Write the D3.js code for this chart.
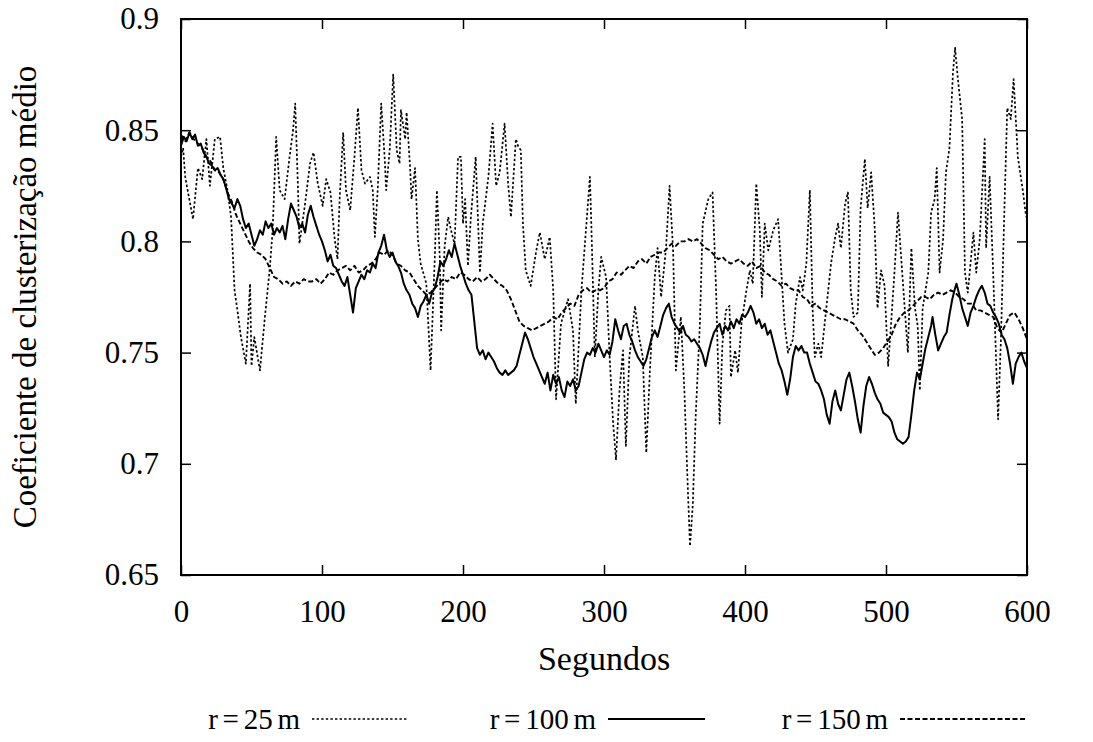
<!DOCTYPE html>
<html>
<head>
<meta charset="utf-8">
<script src="https://cdn.jsdelivr.net/npm/d3@7"></script>
<style>
  body { margin: 0; background: #fff; }
</style>
</head>
<body>
<svg width="1093" height="742"></svg>
<script>
// tick values and labels
var xTicks = [0, 100, 200, 300, 400, 500, 600];
var yTicks = [0.65, 0.7, 0.75, 0.8, 0.85, 0.9];
var xLabel = "Segundos";
var yLabel = "Coeficiente de clusterização médio";
var seriesNames = ["r = 25 m", "r = 100 m", "r = 150 m"];

// r = 25 m  [segundos, coeficiente]
var r25 = [[0,0.838],[1.5,0.842],[3,0.829],[5,0.822],[8.5,0.810],[12,0.833],[15,0.828],[18,0.846],[20.5,0.825],
  [24,0.846],[27.7,0.847],[30,0.833],[33,0.823],[35.5,0.811],[38,0.778],[40,0.769],[42.5,0.757],[46,0.745],
  [49,0.781],[50,0.744],[52,0.757],[56,0.742],[59.5,0.766],[63,0.788],[65,0.805],[67.5,0.847],[70,0.823],
  [73.5,0.819],[77,0.838],[79.5,0.850],[81,0.862],[83,0.823],[84,0.799],[88,0.817],[91.5,0.835],[94,0.840],
  [97,0.826],[100.5,0.816],[103,0.828],[106,0.822],[109,0.801],[111,0.792],[112.5,0.819],[115,0.849],[117,0.823],
  [120,0.814],[123,0.838],[125.5,0.860],[128,0.832],[130.5,0.826],[134,0.829],[136,0.823],[137.5,0.802],
  [139.5,0.823],[142,0.862],[144.5,0.837],[145.5,0.823],[148,0.841],[150.5,0.875],[153,0.841],[155,0.835],
  [156,0.859],[159,0.846],[160,0.858],[162.5,0.833],[163.5,0.819],[166,0.833],[168,0.801],[170,0.790],
  [174,0.781],[177,0.742],[180,0.793],[181.5,0.823],[183.5,0.793],[184.5,0.760],[187,0.798],[189.5,0.811],
  [191.5,0.805],[194,0.799],[196.5,0.838],[198.5,0.838],[200,0.808],[201.5,0.819],[203.5,0.789],[205.5,0.810],
  [209,0.838],[212,0.786],[214,0.808],[218,0.829],[221,0.853],[223.5,0.825],[226,0.831],[229.5,0.853],
  [232,0.826],[234,0.811],[237.5,0.846],[239,0.843],[241,0.841],[242.5,0.808],[244.5,0.787],[248,0.780],
  [252,0.796],[254.5,0.804],[258,0.792],[261.5,0.802],[264,0.778],[266,0.729],[269.5,0.763],[274.5,0.774],
  [278,0.760],[280,0.727],[284,0.778],[290,0.829],[291,0.808],[293.5,0.748],[296,0.778],[298,0.793],
  [301.5,0.784],[304,0.748],[306.5,0.718],[308.5,0.702],[311,0.733],[313.5,0.751],[315.5,0.708],[318,0.748],
  [322,0.771],[324,0.760],[327.5,0.748],[330,0.705],[332.5,0.741],[336,0.784],[338,0.797],[340.5,0.775],
  [344,0.797],[346.5,0.825],[349,0.796],[351,0.742],[354.5,0.766],[357,0.733],[359.5,0.688],[361,0.663],
  [363,0.682],[365,0.721],[368,0.763],[370,0.808],[374,0.819],[377,0.822],[379.5,0.778],[382,0.718],
  [384,0.754],[386.5,0.769],[389,0.771],[390,0.739],[393,0.751],[395,0.741],[397.5,0.763],[401,0.778],
  [403.5,0.787],[405.5,0.781],[408,0.826],[410.5,0.805],[412,0.775],[414,0.808],[416.5,0.796],[420,0.805],
  [423.5,0.810],[425.5,0.789],[428,0.763],[430.5,0.750],[434,0.756],[436,0.772],[439,0.784],[441,0.778],
  [443.5,0.790],[446,0.823],[448,0.769],[449.5,0.748],[452,0.754],[454,0.748],[456.5,0.763],[459,0.778],
  [461,0.790],[464,0.802],[466,0.808],[468,0.797],[471,0.817],[473,0.822],[475,0.778],[477,0.766],
  [480,0.768],[482,0.815],[485,0.837],[487,0.815],[489.5,0.831],[492,0.806],[494,0.770],[496.5,0.787],
  [499,0.780],[501.5,0.744],[503.5,0.762],[506,0.786],[508.5,0.813],[510.5,0.795],[513.5,0.768],[515.5,0.750],
  [518,0.797],[520.5,0.770],[522.5,0.762],[524,0.733],[526,0.770],[530,0.786],[532,0.813],[534.5,0.819],
  [536,0.833],[538,0.786],[540.5,0.801],[542.5,0.831],[545,0.842],[547.5,0.876],[549,0.887],[551,0.873],
  [554,0.855],[556,0.786],[558,0.777],[562,0.804],[564,0.786],[566.5,0.801],[570,0.846],[571,0.797],
  [573.5,0.829],[576,0.786],[579.5,0.720],[581.5,0.756],[584,0.815],[586,0.860],[588.5,0.855],[590.5,0.873],
  [593.5,0.838],[597,0.823],[599,0.813],[600,0.810]];

// r = 100 m
var r100 = [[0,0.843],[2,0.847],[4,0.845],[6,0.849],[8,0.846],[10,0.848],[12,0.843],[14,0.844],[16,0.840],
  [18,0.838],[20,0.835],[22,0.834],[24,0.832],[26,0.833],[28,0.830],[30,0.828],[32,0.824],[34,0.819],
  [36,0.817],[38,0.815],[40,0.819],[42,0.816],[44,0.810],[46,0.806],[48,0.808],[50,0.803],[52,0.798],
  [54,0.801],[56,0.805],[58,0.803],[60,0.809],[62,0.806],[64,0.808],[66,0.803],[68,0.806],[70,0.804],
  [72,0.807],[74,0.801],[76,0.810],[78,0.817],[80,0.814],[82,0.811],[84,0.806],[86,0.808],[88,0.804],
  [90,0.812],[92,0.816],[94,0.811],[96,0.807],[98,0.803],[100,0.800],[102,0.796],[104,0.791],[106,0.794],
  [108,0.789],[110,0.788],[112,0.785],[114,0.782],[116,0.780],[118,0.784],[120,0.776],[122,0.768],
  [124,0.779],[126,0.782],[128,0.785],[130,0.783],[132,0.787],[134,0.786],[136,0.790],[138,0.788],
  [140,0.795],[142,0.798],[144,0.803],[146,0.796],[148,0.793],[150,0.795],[152,0.791],[154,0.789],
  [156,0.786],[158,0.781],[160,0.778],[162,0.776],[164,0.772],[166,0.770],[168,0.766],[170,0.771],
  [172,0.773],[174,0.776],[176,0.772],[178,0.777],[180,0.779],[182,0.784],[184,0.791],[186,0.789],
  [188,0.792],[190,0.796],[192,0.793],[194,0.799],[196,0.794],[198,0.789],[200,0.785],[202,0.781],
  [204,0.778],[206,0.776],[208,0.764],[210,0.752],[212,0.749],[214,0.751],[216,0.747],[218,0.750],
  [220,0.748],[222,0.746],[224,0.743],[226,0.741],[228,0.740],[230,0.742],[232,0.740],[234,0.741],
  [236,0.742],[238,0.744],[240,0.749],[242,0.754],[244,0.759],[246,0.756],[248,0.752],[250,0.748],
  [252,0.745],[254,0.742],[256,0.739],[258,0.736],[260,0.741],[262,0.733],[264,0.740],[266,0.736],
  [268,0.739],[270,0.733],[272,0.730],[274,0.737],[276,0.735],[278,0.738],[280,0.733],[282,0.735],
  [284,0.741],[286,0.747],[288,0.750],[290,0.749],[292,0.752],[294,0.750],[296,0.754],[298,0.751],
  [300,0.748],[302,0.751],[304,0.749],[306,0.755],[308,0.765],[310,0.760],[312,0.756],[314,0.762],
  [316,0.763],[318,0.758],[320,0.755],[322,0.751],[324,0.748],[326,0.746],[328,0.744],[330,0.747],
  [332,0.752],[334,0.757],[336,0.760],[338,0.757],[340,0.762],[342,0.767],[344,0.770],[346,0.772],
  [348,0.766],[350,0.763],[352,0.761],[354,0.759],[356,0.762],[358,0.758],[360,0.757],[362,0.755],
  [364,0.756],[366,0.754],[368,0.752],[370,0.749],[372,0.744],[374,0.750],[376,0.755],[378,0.759],
  [380,0.761],[382,0.763],[384,0.758],[386,0.762],[388,0.760],[390,0.764],[392,0.761],[394,0.765],
  [396,0.763],[398,0.767],[400,0.766],[402,0.768],[404,0.771],[406,0.768],[408,0.763],[410,0.765],
  [412,0.761],[414,0.763],[416,0.758],[418,0.760],[420,0.755],[422,0.750],[424,0.745],[426,0.742],
  [428,0.737],[430,0.731],[432,0.738],[434,0.748],[436,0.753],[438,0.751],[440,0.753],[442,0.750],
  [444,0.750],[446,0.745],[448,0.741],[450,0.737],[452,0.736],[454,0.733],[456,0.729],[458,0.722],
  [460,0.718],[462,0.728],[464,0.733],[466,0.727],[468,0.724],[470,0.731],[472,0.738],[474,0.741],
  [476,0.735],[478,0.728],[480,0.720],[482,0.714],[484,0.726],[486,0.735],[488,0.739],[490,0.736],
  [492,0.732],[494,0.729],[496,0.727],[498,0.723],[500,0.722],[502,0.721],[504,0.719],[506,0.714],
  [508,0.711],[510,0.710],[512,0.709],[514,0.710],[516,0.712],[518,0.722],[520,0.733],[522,0.741],
  [524,0.738],[526,0.745],[528,0.752],[530,0.757],[532,0.762],[533,0.766],[535,0.758],[537,0.751],
  [539,0.754],[541,0.757],[543,0.759],[545,0.767],[547,0.774],[549,0.779],[550,0.781],[552,0.776],
  [554,0.770],[556,0.766],[558,0.762],[560,0.768],[562,0.771],[564,0.775],[566,0.778],[568,0.780],
  [570,0.777],[572,0.772],[574,0.771],[576,0.768],[578,0.766],[580,0.763],[582,0.758],[584,0.756],
  [586,0.752],[588,0.745],[590,0.736],[592,0.745],[594,0.748],[596,0.750],[598,0.746],[600,0.743]];

// r = 150 m
var r150 = [[0,0.848],[3,0.845],[6,0.849],[9,0.846],[12,0.844],[15,0.842],[18,0.838],[21,0.836],[24,0.832],
  [27,0.831],[30,0.828],[33,0.822],[36,0.818],[39,0.812],[42,0.808],[45,0.804],[48,0.800],[51,0.797],
  [54,0.795],[57,0.794],[60,0.792],[63,0.788],[66,0.784],[69,0.783],[72,0.781],[75,0.782],[78,0.780],
  [81,0.782],[84,0.781],[87,0.783],[90,0.782],[93,0.782],[96,0.783],[99,0.781],[102,0.783],[105,0.786],
  [108,0.785],[111,0.787],[114,0.788],[117,0.789],[120,0.787],[123,0.789],[126,0.786],[129,0.787],
  [132,0.789],[135,0.790],[138,0.792],[141,0.795],[144,0.794],[147,0.796],[150,0.794],[153,0.790],
  [156,0.789],[159,0.787],[162,0.786],[165,0.783],[168,0.780],[171,0.778],[174,0.776],[177,0.777],
  [180,0.779],[183,0.781],[186,0.783],[189,0.782],[192,0.784],[195,0.783],[198,0.786],[201,0.785],
  [204,0.783],[207,0.782],[210,0.784],[213,0.782],[216,0.783],[219,0.785],[222,0.783],[225,0.781],
  [228,0.780],[231,0.778],[234,0.774],[237,0.769],[240,0.764],[243,0.762],[246,0.761],[249,0.760],
  [252,0.761],[255,0.762],[258,0.763],[261,0.764],[264,0.766],[267,0.765],[270,0.768],[273,0.770],
  [276,0.772],[279,0.771],[282,0.776],[285,0.778],[288,0.779],[291,0.777],[294,0.778],[297,0.778],
  [300,0.779],[303,0.782],[306,0.783],[309,0.786],[312,0.785],[315,0.787],[318,0.789],[321,0.788],
  [324,0.791],[327,0.792],[330,0.790],[333,0.793],[336,0.794],[339,0.795],[342,0.795],[345,0.797],
  [348,0.799],[351,0.798],[354,0.800],[357,0.800],[360,0.801],[363,0.800],[366,0.801],[369,0.799],
  [372,0.797],[375,0.796],[378,0.794],[381,0.792],[384,0.793],[387,0.791],[390,0.790],[393,0.791],
  [396,0.792],[399,0.790],[402,0.789],[405,0.791],[408,0.788],[411,0.789],[414,0.786],[417,0.785],
  [420,0.783],[423,0.782],[426,0.780],[429,0.781],[432,0.779],[435,0.778],[438,0.778],[441,0.775],
  [444,0.774],[447,0.771],[450,0.772],[453,0.770],[456,0.769],[459,0.768],[462,0.767],[465,0.766],
  [468,0.765],[471,0.765],[474,0.764],[477,0.763],[480,0.760],[483,0.758],[486,0.755],[489,0.752],
  [492,0.749],[495,0.750],[498,0.752],[501,0.755],[504,0.758],[507,0.763],[510,0.766],[513,0.768],
  [516,0.769],[519,0.771],[522,0.773],[525,0.775],[528,0.775],[531,0.774],[534,0.776],[537,0.777],
  [540,0.776],[543,0.777],[546,0.778],[549,0.777],[552,0.775],[555,0.774],[558,0.772],[561,0.772],
  [564,0.769],[567,0.769],[570,0.768],[573,0.767],[576,0.766],[579,0.761],[582,0.759],[585,0.763],
  [588,0.767],[591,0.768],[594,0.765],[597,0.761],[600,0.756]];

var serif = "'Liberation Serif'";

var svg = d3.select("svg"),
    margin = {top: 19, right: 66, bottom: 167, left: 181},
    width = +svg.attr("width") - margin.left - margin.right,
    height = +svg.attr("height") - margin.top - margin.bottom,
    g = svg.append("g").attr("transform", "translate(" + margin.left + "," + margin.top + ")");

var x = d3.scaleLinear().domain([0, 600]).range([0, width]);
var y = d3.scaleLinear().domain([0.65, 0.9]).range([height, 0]);

var styles = [
  {data: r25, width: 1.7, dash: "2.4,2.2"},
  {data: r100, width: 2, dash: null},
  {data: r150, width: 1.9, dash: "5,2.5"}
];

svg.append("defs").append("clipPath").attr("id", "clip")
  .append("rect").attr("width", width).attr("height", height);

var line = d3.line()
    .x(function(d) { return x(d[0]); })
    .y(function(d) { return y(d[1]); });

g.append("g").attr("clip-path", "url(#clip)")
  .selectAll("path")
  .data(styles)
  .enter().append("path")
    .attr("d", function(d) { return line(d.data); })
    .attr("fill", "none")
    .attr("stroke", "#000")
    .attr("stroke-width", function(d) { return d.width; })
    .attr("stroke-dasharray", function(d) { return d.dash; })
    .attr("stroke-linejoin", "round");

// axes, ticks pointing inward
var fmt = function(d) { return String(d); };
g.append("g").attr("transform", "translate(0," + height + ")")
    .call(d3.axisBottom(x).tickValues(xTicks).tickSize(-10).tickPadding(25).tickFormat(fmt));
g.append("g")
    .call(d3.axisLeft(y).tickValues(yTicks).tickSize(-10).tickPadding(22).tickFormat(fmt));
g.append("g").call(d3.axisTop(x).tickValues(xTicks).tickSize(-10).tickFormat(""));
g.append("g").attr("transform", "translate(" + width + ",0)")
    .call(d3.axisRight(y).tickValues(yTicks).tickSize(-10).tickFormat(""));

g.selectAll(".domain").remove();
g.selectAll(".tick line").attr("stroke", "#000").attr("stroke-width", 1.5);
g.selectAll(".tick text")
    .attr("fill", "#000")
    .style("font-family", serif)
    .style("font-size", "31px");

g.append("rect")
  .attr("width", width).attr("height", height)
  .attr("fill", "none").attr("stroke", "#000").attr("stroke-width", 2);

// axis titles
svg.append("text")
  .attr("x", margin.left + width / 2).attr("y", 670)
  .attr("text-anchor", "middle")
  .style("font-family", serif)
  .style("font-size", "34px")
  .text(xLabel);

svg.append("text")
  .attr("transform", "translate(36," + (margin.top + height / 2) + ") rotate(-90)")
  .attr("text-anchor", "middle")
  .style("font-family", serif)
  .style("font-size", "33px")
  .text(yLabel);

// legend
var legendPos = [{tx: 300, lx1: 312, lx2: 407}, {tx: 596, lx1: 608, lx2: 705}, {tx: 888, lx1: 900, lx2: 1025}];
var legend = svg.selectAll(".legend")
  .data(styles)
  .enter().append("g")
    .attr("class", "legend");

legend.append("text")
  .attr("x", function(d, i) { return legendPos[i].tx; })
  .attr("y", 729)
  .attr("text-anchor", "end")
  .style("font-family", serif)
  .style("font-size", "29px")
  .style("word-spacing", "-2.5px")
  .text(function(d, i) { return seriesNames[i]; });

legend.append("line")
  .attr("x1", function(d, i) { return legendPos[i].lx1; })
  .attr("x2", function(d, i) { return legendPos[i].lx2; })
  .attr("y1", 719).attr("y2", 719)
  .attr("stroke", "#000")
  .attr("stroke-width", function(d) { return d.width; })
  .attr("stroke-dasharray", function(d) { return d.dash; });
</script>
</body>
</html>
